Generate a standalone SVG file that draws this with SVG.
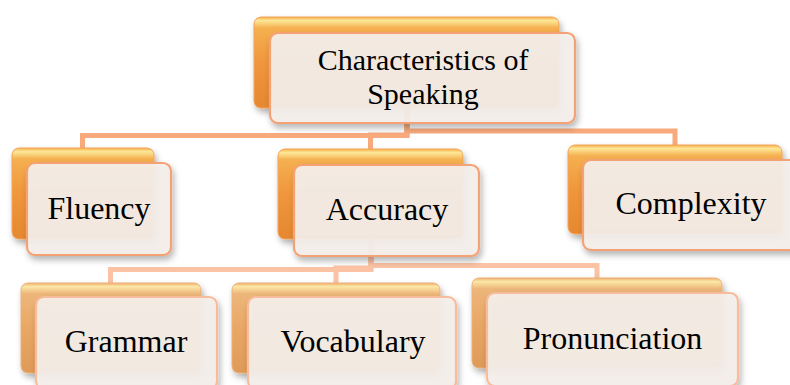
<svg xmlns="http://www.w3.org/2000/svg" width="790" height="385" viewBox="0 0 790 385">
<defs>
<linearGradient id="g1" x1="0" y1="0" x2="0" y2="1">
<stop offset="0" stop-color="#F7B04A"/>
<stop offset="0.04" stop-color="#FDE898"/>
<stop offset="0.12" stop-color="#F5B050"/>
<stop offset="0.5" stop-color="#F0963C"/>
<stop offset="1" stop-color="#E58830"/>
</linearGradient>
<linearGradient id="g2" x1="0" y1="0" x2="0" y2="1">
<stop offset="0" stop-color="#EFB070"/>
<stop offset="0.04" stop-color="#FBE7A6"/>
<stop offset="0.12" stop-color="#EDB67A"/>
<stop offset="0.5" stop-color="#E9A766"/>
<stop offset="1" stop-color="#DE9A58"/>
</linearGradient>
<filter id="sh" x="-10%" y="-10%" width="125%" height="135%">
<feDropShadow dx="2" dy="4" stdDeviation="3" flood-color="#000" flood-opacity="0.3"/>
</filter>
</defs>
<style>
.b1{fill:url(#g1);stroke:#F3A35A;stroke-width:1}
.b2{fill:url(#g2);stroke:#EBB07A;stroke-width:1}
.f1{fill:#F5F0EC;fill-opacity:0.92;stroke:#F4A274;stroke-width:2.2}
.f2{fill:#F5F0EC;fill-opacity:0.92;stroke:#F8BC9C;stroke-width:2.2}
.c1{fill:none;stroke:#F8AA7C;stroke-width:5}
.c2{fill:none;stroke:#FBC2A4;stroke-width:5}
text{font-family:"Liberation Serif","Times New Roman",serif;font-size:32px;fill:#000;text-anchor:middle}
.t0{font-size:30px}
</style>
<g id="connectors">
<path class="c1" d="M407,108 V135.5 H82.5 V150"/>
<path class="c1" d="M407,108 V135 H370.5 V150"/>
<path class="c1" d="M407,108 V131 H675 V146"/>
<path class="c2" d="M371,239 V269.5 H110.5 V284"/>
<path class="c2" d="M371,239 V268 H336 V284"/>
<path class="c2" d="M371,239 V265.5 H597 V279"/>
</g>
<g id="node-root">
<rect class="b1" x="254" y="17" width="305" height="91" rx="7" filter="url(#sh)"/>
<rect class="f1" x="270" y="33" width="305" height="90" rx="8" filter="url(#sh)"/>
<text class="t0" x="423" y="70">Characteristics of</text>
<text class="t0" x="423" y="104">Speaking</text>
</g>
<g id="node-fluency">
<rect class="b1" x="12" y="148" width="142" height="91" rx="7" filter="url(#sh)"/>
<rect class="f1" x="27" y="163" width="144" height="92" rx="8" filter="url(#sh)"/>
<text x="99" y="219">Fluency</text>
</g>
<g id="node-accuracy">
<rect class="b1" x="278" y="149" width="185" height="90" rx="7" filter="url(#sh)"/>
<rect class="f1" x="294" y="165" width="185" height="91" rx="8" filter="url(#sh)"/>
<text x="387" y="220">Accuracy</text>
</g>
<g id="node-complexity">
<rect class="b1" x="568" y="145" width="214" height="89" rx="7" filter="url(#sh)"/>
<rect class="f1" x="583" y="160" width="216" height="90" rx="8" filter="url(#sh)"/>
<text x="691" y="214">Complexity</text>
</g>
<g id="node-grammar">
<rect class="b2" x="21" y="283" width="180" height="90" rx="7" filter="url(#sh)"/>
<rect class="f2" x="36" y="297" width="181" height="92" rx="8" filter="url(#sh)"/>
<text x="126" y="352">Grammar</text>
</g>
<g id="node-vocabulary">
<rect class="b2" x="232" y="283" width="208" height="90" rx="7" filter="url(#sh)"/>
<rect class="f2" x="248" y="297" width="208" height="92" rx="8" filter="url(#sh)"/>
<text x="353" y="352">Vocabulary</text>
</g>
<g id="node-pronunciation">
<rect class="b2" x="472" y="278" width="250" height="90" rx="7" filter="url(#sh)"/>
<rect class="f2" x="487" y="293" width="251" height="93" rx="8" filter="url(#sh)"/>
<text x="612.5" y="349">Pronunciation</text>
</g>
</svg>
